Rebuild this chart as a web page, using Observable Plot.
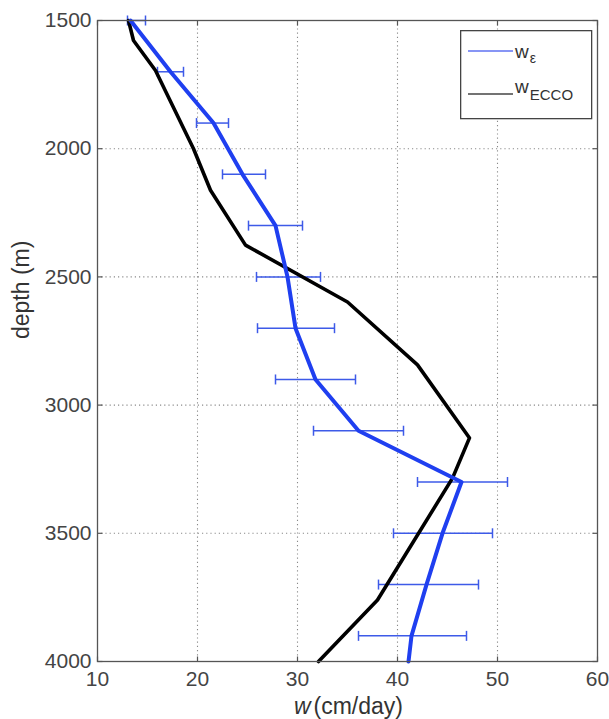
<!DOCTYPE html>
<html><head><meta charset="utf-8">
<script src="https://cdn.jsdelivr.net/npm/d3@7"></script>
<script src="https://cdn.jsdelivr.net/npm/@observablehq/plot@0.6"></script>
<style>
body{margin:0;background:#fff;}
#wrap{position:relative;width:609px;height:719px;}
#legend{position:absolute;left:460px;top:30px;}
</style>
</head><body>
<div id="wrap"></div>
<script>
// ---- data ----
const xTicks = [10, 20, 30, 40, 50, 60];
const yTicks = [1500, 2000, 2500, 3000, 3500, 4000];
const xGrid = [20, 30, 40, 50];
const yGrid = [2000, 2500, 3000, 3500];

// w_epsilon estimates with error bars
const epsDepth = [1500, 1700, 1900, 2100, 2300, 2500, 2700, 2900, 3100, 3300, 3500, 3700, 3900];
const epsW     = [13.3, 17.3, 21.6, 24.5, 27.8, 29.0, 29.8, 31.8, 36.1, 46.4, 44.5, 42.9, 41.4];
const epsLo    = [13.0, 16.0, 19.9, 22.5, 25.1, 25.9, 26.0, 27.8, 31.6, 42.0, 39.6, 38.1, 36.1];
const epsHi    = [14.8, 18.6, 23.1, 26.8, 30.5, 32.3, 33.7, 35.8, 40.6, 51.0, 49.5, 48.1, 46.9];
// blue line continues to the bottom of the axis
const epsLineDepth = [...epsDepth, 4000];
const epsLineW     = [...epsW, 41.1];

// w_ECCO profile
const eccoDepth = [1500, 1578, 1695, 2000, 2162, 2376, 2598, 2843, 3128, 3285, 3760, 4000];
const eccoW     = [13.1, 13.6, 15.8, 19.6, 21.3, 24.8, 35.0, 42.0, 47.2, 45.5, 38.0, 32.1];

const xLabelItalic = "w";
const xLabelRest = "(cm/day)";
const yLabel = "depth (m)";
const legendLabels = [{main: "w", sub: "ε"}, {main: "w", sub: "ECCO"}];

// ---- tables ----
const errTable = epsDepth.map((d, i) => ({depth: d, w: epsW[i], lo: epsLo[i], hi: epsHi[i]}));
const epsLine = epsLineDepth.map((d, i) => ({depth: d, w: epsLineW[i]}));
const eccoLine = eccoDepth.map((d, i) => ({depth: d, w: eccoW[i]}));

// custom symbols (short segments) for caps and inward ticks
const seg = (x1, y1, x2, y2) => ({draw(ctx) { ctx.moveTo(x1, y1); ctx.lineTo(x2, y2); }});
const capSym = seg(0, -5, 0, 5);
const tickUp = seg(0, 0, 0, -5);
const tickDown = seg(0, 0, 0, 5);
const tickRight = seg(0, 0, 5, 0);
const tickLeft = seg(0, 0, -5, 0);

const BLUE = "#1f3ff0";
const ERR = "#3d5ae8";
const GRID = "#8a8a8a";
const AX = "#555";

const chart = Plot.plot({
  width: 609, height: 719,
  marginLeft: 97, marginRight: 12, marginTop: 20, marginBottom: 58,
  style: {fontFamily: '"Liberation Sans", Arial, sans-serif', fontSize: "21px", color: "#444", background: "#fff", overflow: "visible"},
  x: {domain: [10, 60], ticks: xTicks, tickSize: 0, tickPadding: 10, tickFormat: d => String(d), label: null},
  y: {domain: [1500, 4000], reverse: true, ticks: yTicks, tickSize: 0, tickPadding: 6, tickFormat: d => String(d), label: null},
  marks: [
    Plot.ruleX(xGrid, {x: d => d, stroke: GRID, strokeWidth: 1.1, strokeDasharray: "1.2,3"}),
    Plot.ruleY(yGrid, {y: d => d, stroke: GRID, strokeWidth: 1.1, strokeDasharray: "1.2,3"}),
    // inward ticks
    Plot.dot(xTicks, {x: d => d, frameAnchor: "bottom", symbol: tickUp, stroke: AX, strokeWidth: 1.2}),
    Plot.dot(xTicks, {x: d => d, frameAnchor: "top", symbol: tickDown, stroke: AX, strokeWidth: 1.2}),
    Plot.dot(yTicks, {y: d => d, frameAnchor: "left", symbol: tickRight, stroke: AX, strokeWidth: 1.2}),
    Plot.dot(yTicks, {y: d => d, frameAnchor: "right", symbol: tickLeft, stroke: AX, strokeWidth: 1.2}),
    // error bars
    Plot.ruleY(errTable, {y: "depth", x1: "lo", x2: "hi", stroke: ERR, strokeWidth: 1.5}),
    Plot.dot(errTable, {x: "lo", y: "depth", symbol: capSym, stroke: ERR, strokeWidth: 1.5}),
    Plot.dot(errTable, {x: "hi", y: "depth", symbol: capSym, stroke: ERR, strokeWidth: 1.5}),
    // profiles
    Plot.line(eccoLine, {x: "w", y: "depth", stroke: "#000", strokeWidth: 3.6, strokeLinejoin: "round"}),
    Plot.line(epsLine, {x: "w", y: "depth", stroke: BLUE, strokeWidth: 4, strokeLinejoin: "round"}),
    Plot.frame({stroke: AX, strokeWidth: 1.3}),
    // axis labels
    Plot.text([xLabelItalic], {text: d => d, frameAnchor: "bottom", dx: -37, dy: 45, textAnchor: "end", lineAnchor: "middle", fontSize: 23, fontStyle: "italic", fill: "#333"}),
    Plot.text([xLabelRest], {text: d => d, frameAnchor: "bottom", dx: -34, dy: 45, textAnchor: "start", lineAnchor: "middle", fontSize: 23, fill: "#333"}),
    Plot.text([yLabel], {text: d => d, frameAnchor: "left", rotate: -90, dx: -76, dy: -2, lineAnchor: "middle", fontSize: 23, fill: "#333"})
  ]
});
document.getElementById("wrap").appendChild(chart);

// legend overlay (inside the plot box, top right)
const lg = d3.select("#wrap").append("svg").attr("id", "legend")
  .attr("width", 133).attr("height", 90)
  .style("font-family", '"Liberation Sans", Arial, sans-serif');
lg.append("rect").attr("x", 0.65).attr("y", 0.65).attr("width", 131).attr("height", 88)
  .attr("fill", "#fff").attr("stroke", "#444").attr("stroke-width", 1.3);
const rows = [{y: 21, color: "#5f72f2", baseline: 28, subDy: 5, subSize: 14}, {y: 64, color: "#444", baseline: 63, subDy: 7, subSize: 15}];
rows.forEach((r, i) => {
  lg.append("line").attr("x1", 8).attr("x2", 53).attr("y1", r.y).attr("y2", r.y)
    .attr("stroke", r.color).attr("stroke-width", 1.6);
  const t = lg.append("text").attr("x", 55).attr("y", r.baseline).attr("fill", "#333").attr("font-size", 19);
  t.append("tspan").text(legendLabels[i].main);
  t.append("tspan").attr("dx", 1).attr("dy", r.subDy).attr("font-size", r.subSize).text(legendLabels[i].sub);
});
</script>
</body></html>
